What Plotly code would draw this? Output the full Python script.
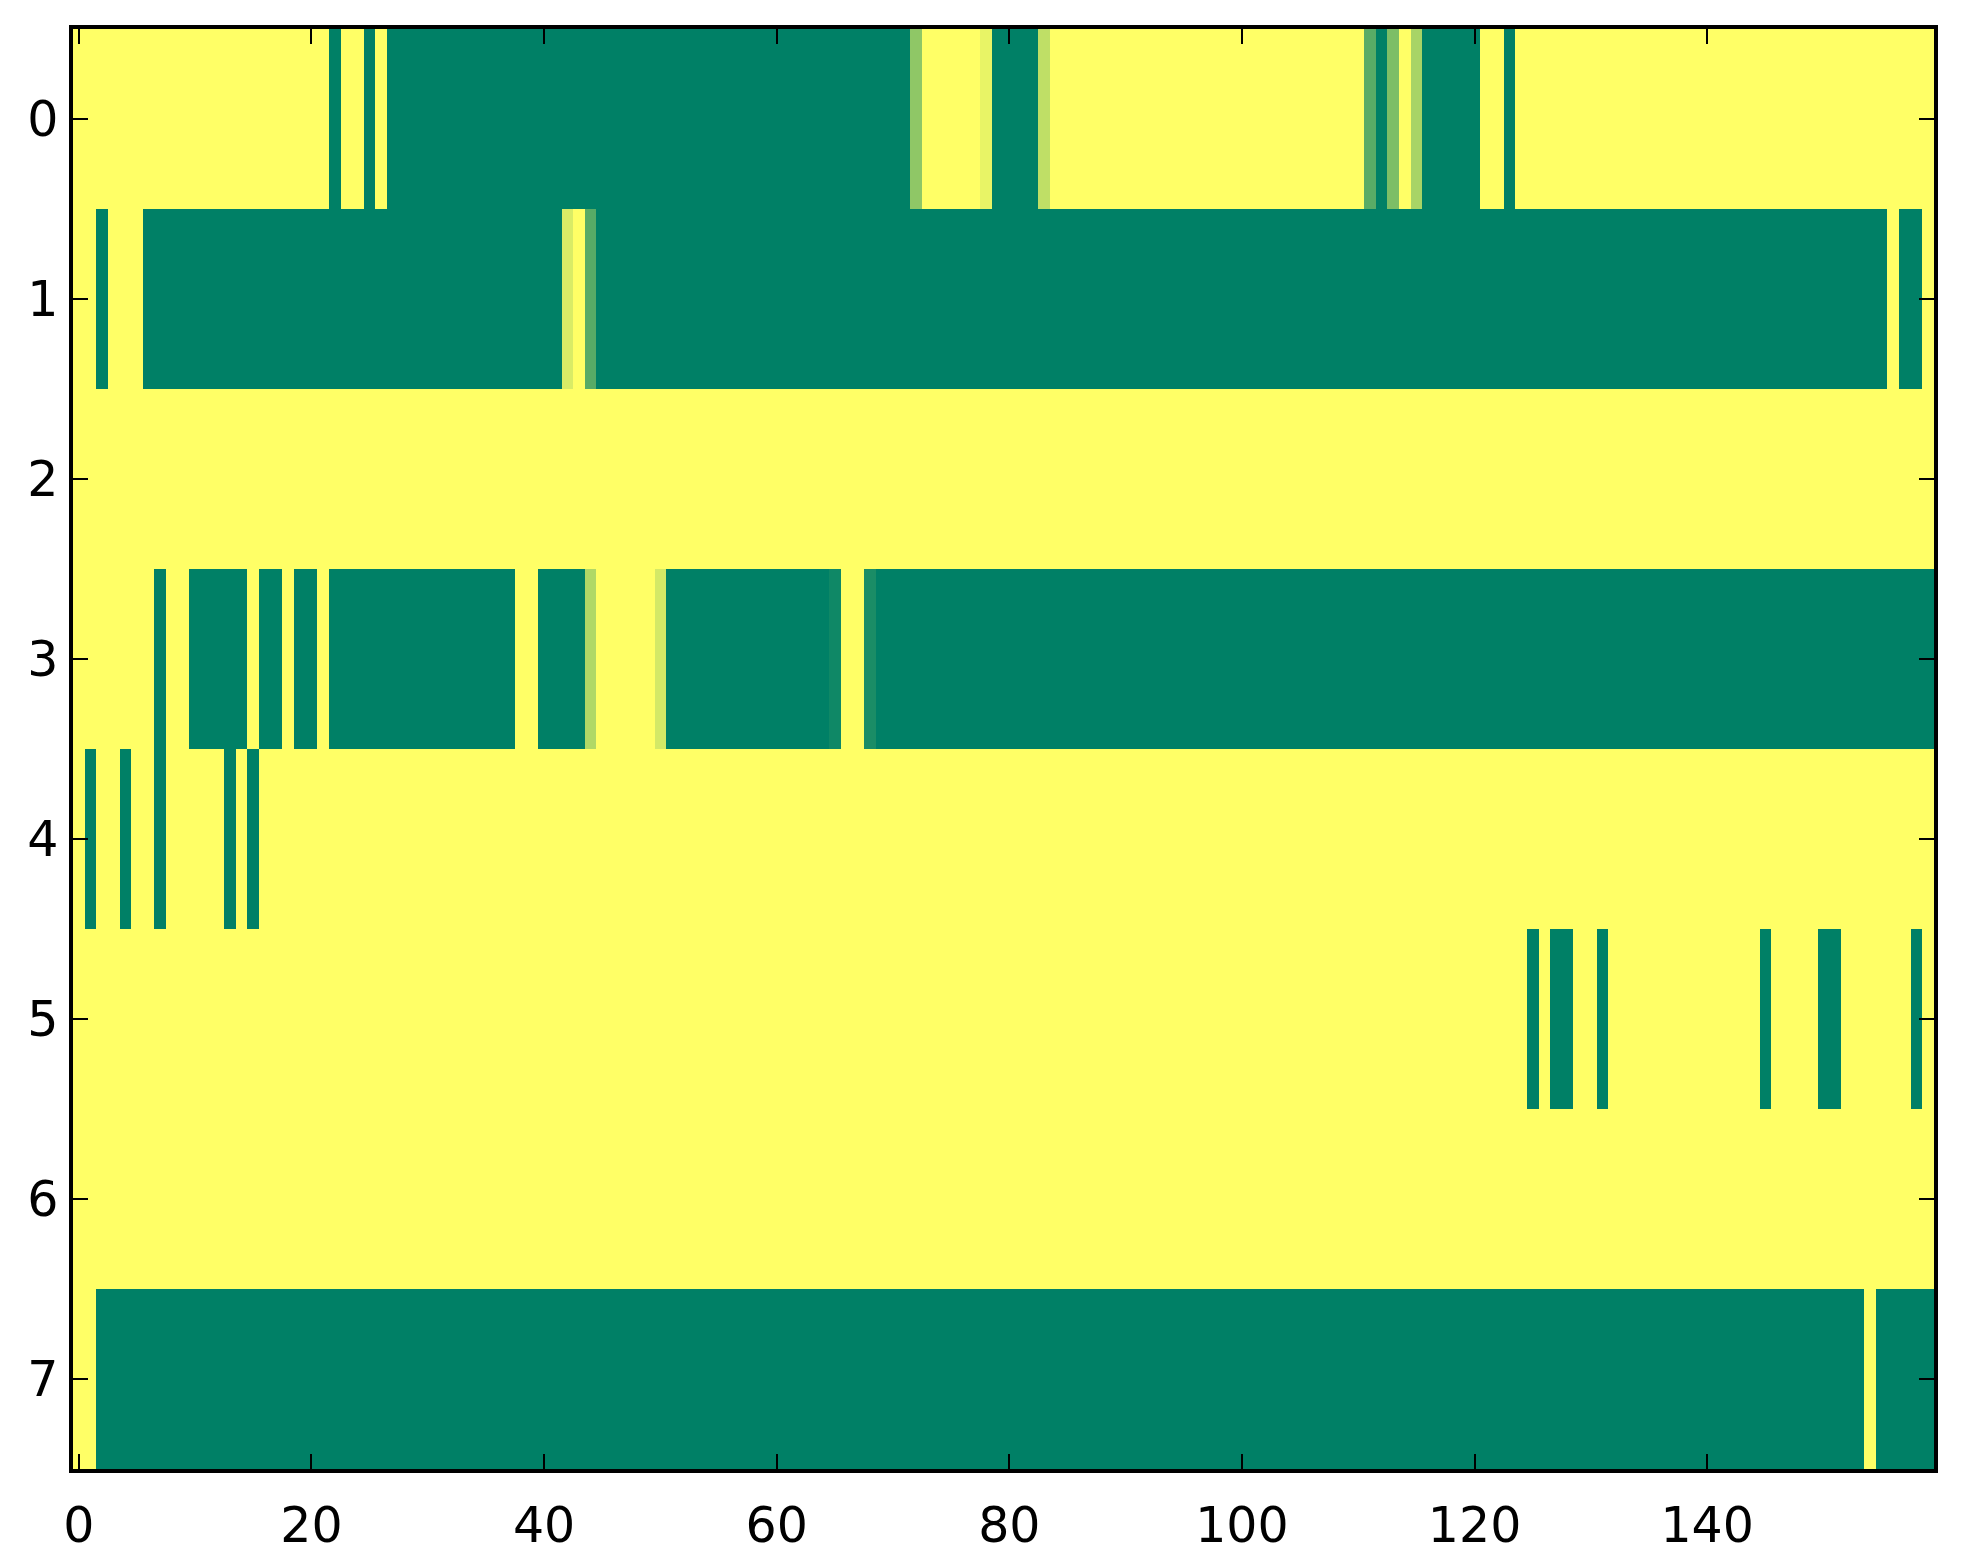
import numpy as np
import plotly.graph_objects as go

n_cols = 160
row_labels = [0, 1, 2, 3, 4, 5, 6, 7]
x_ticks = [0, 20, 40, 60, 80, 100, 120, 140]

# runs: (first col, last col, value)
row0 = [(0, 21, 1), (22, 22, 0), (23, 24, 1), (25, 25, 0), (26, 26, 1), (27, 71, 0),
        (72, 72, 0.56), (73, 77, 1), (78, 78, 0.91), (79, 82, 0), (83, 83, 0.75),
        (84, 110, 1), (111, 111, 0.35), (112, 112, 0), (113, 113, 0.49), (114, 114, 1),
        (115, 115, 0.66), (116, 120, 0), (121, 122, 1), (123, 123, 0), (124, 159, 1)]
row1 = [(0, 1, 1), (2, 2, 0), (3, 5, 1), (6, 41, 0), (42, 42, 0.85), (43, 43, 1),
        (44, 44, 0.34), (45, 155, 0), (156, 156, 1), (157, 158, 0), (159, 159, 1)]
row2 = [(0, 159, 1)]
row3 = [(0, 6, 1), (7, 7, 0), (8, 9, 1), (10, 14, 0), (15, 15, 1), (16, 17, 0),
        (18, 18, 1), (19, 20, 0), (21, 21, 1), (22, 37, 0), (38, 39, 1), (40, 43, 0),
        (44, 44, 0.69), (45, 49, 1), (50, 50, 0.83), (51, 64, 0), (65, 65, 0.06),
        (66, 67, 1), (68, 68, 0.1), (69, 159, 0)]
row4 = [(0, 0, 1), (1, 1, 0), (2, 3, 1), (4, 4, 0), (5, 6, 1), (7, 7, 0), (8, 12, 1),
        (13, 13, 0), (14, 14, 1), (15, 15, 0), (16, 159, 1)]
row5 = [(0, 124, 1), (125, 125, 0), (126, 126, 1), (127, 128, 0), (129, 130, 1),
        (131, 131, 0), (132, 144, 1), (145, 145, 0), (146, 149, 1), (150, 151, 0),
        (152, 157, 1), (158, 158, 0), (159, 159, 1)]
row6 = [(0, 159, 1)]
row7 = [(0, 1, 1), (2, 153, 0), (154, 154, 1), (155, 159, 0)]

rows = [row0, row1, row2, row3, row4, row5, row6, row7]
z = np.zeros((len(rows), n_cols))
for i, runs in enumerate(rows):
    for a, b, v in runs:
        z[i, a:b + 1] = v

# matplotlib "summer"
summer = [[0, "rgb(0,128,102)"], [1, "rgb(255,255,102)"]]

fig = go.Figure(go.Heatmap(
    z=z, x=list(range(n_cols)), y=row_labels,
    colorscale=summer, zmin=0, zmax=1, showscale=False,
))

axis = dict(
    showline=True, linecolor="black", linewidth=3.5, mirror="ticks",
    ticks="inside", ticklen=15, tickwidth=2, tickcolor="black",
    showgrid=False, zeroline=False, automargin=False,
    tickfont=dict(family="DejaVu Sans", size=49, color="black"),
)
fig.update_xaxes(range=[-0.5, 159.5], tickvals=x_ticks, ticklabelstandoff=10, **axis)
fig.update_yaxes(range=[7.5, -0.5], tickvals=row_labels, ticklabelstandoff=1, **axis)

# page body has an 8px default margin, so shrink the figure by that much
fig.update_layout(
    width=1955, height=1556,
    margin=dict(l=65, r=29, t=21, b=95),
    paper_bgcolor="white", plot_bgcolor="white",
)

fig.write_html("out.html")
